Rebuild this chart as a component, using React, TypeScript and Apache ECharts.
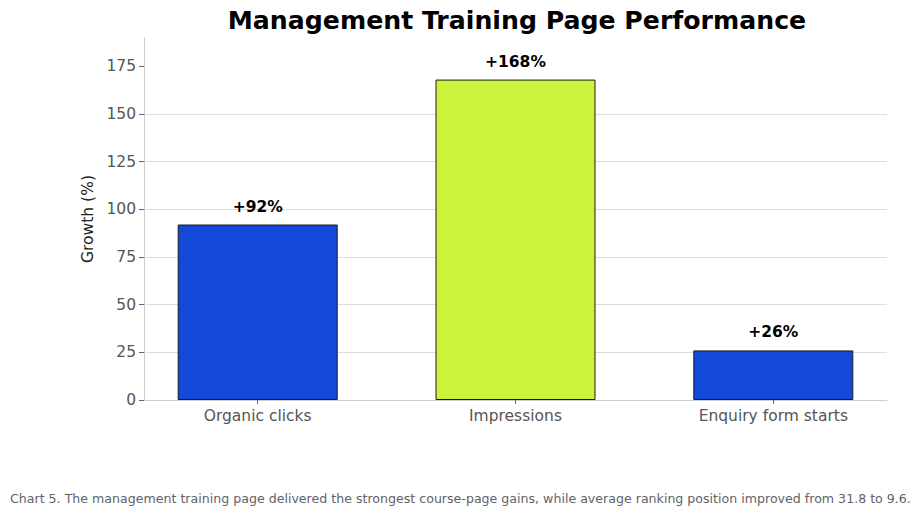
import { useEffect, useRef } from "react";
import * as echarts from "echarts";

const categories = ["Organic clicks", "Impressions", "Enquiry form starts"];
const growth = [92, 168, 26];
const yTicks = [0, 25, 50, 75, 100, 125, 150, 175];

const title = "Management Training Page Performance";
const caption =
  "Chart 5. The management training page delivered the strongest course-page gains, while average ranking position improved from 31.8 to 9.6.";

const BLUE = "#1249d9";
const GREEN = "#ccf23c";
const FONT = "DejaVu Sans";

export default function App() {
  const containerRef = useRef<HTMLDivElement>(null);

  useEffect(() => {
    document.body.style.margin = "0";
    if (!containerRef.current) return;

    const chart = echarts.init(containerRef.current, null, { renderer: "svg" });

    chart.setOption({
      animation: false,
      textStyle: { fontFamily: FONT },

      title: {
        text: title,
        left: 512,
        top: 3,
        textAlign: "center",
        textStyle: { fontFamily: FONT, fontSize: 25.2, fontWeight: "bold", color: "#000" },
      },

      graphic: [
        {
          type: "text",
          left: 10,
          top: 492,
          style: { text: caption, font: `12.6px '${FONT}'`, fill: "#5f6368" },
        },
      ],

      grid: { left: 144, right: 33, top: 38, bottom: 118 },

      xAxis: {
        type: "value",
        min: -0.441,
        max: 2.441,
        splitLine: { show: false },
        axisLine: { show: true, onZero: false, lineStyle: { color: "#cccccc" } },
        axisTick: {
          show: true,
          customValues: [0, 1, 2],
          length: 4,
          lineStyle: { color: "#666" },
        },
        axisLabel: {
          customValues: [0, 1, 2],
          formatter: (v: number) => categories[Math.round(v)] ?? "",
          fontSize: 15.5,
          color: "#555",
          margin: 8,
        },
      },

      yAxis: {
        type: "value",
        min: 0,
        max: 189.8,
        interval: 25,
        name: "Growth (%)",
        nameLocation: "middle",
        nameGap: 46,
        nameTextStyle: { fontSize: 15.5, color: "#222" },
        axisLine: { show: true, onZero: false, lineStyle: { color: "#cccccc" } },
        axisTick: {
          show: true,
          customValues: yTicks,
          length: 5,
          lineStyle: { color: "#666" },
        },
        axisLabel: {
          customValues: yTicks,
          fontSize: 15.5,
          color: "#555",
          margin: 8,
        },
        splitLine: {
          show: true,
          showMaxLine: false,
          lineStyle: { color: "#dddddd", width: 1 },
        },
      },

      series: [
        {
          type: "bar",
          barWidth: 160,
          data: growth.map((g, i) => ({
            value: [i, g],
            itemStyle: {
              color: i === 1 ? GREEN : BLUE,
              borderColor: "#1a1a1a",
              borderWidth: 1,
            },
          })),
          label: {
            show: true,
            position: "top",
            distance: 10,
            formatter: (p: any) => `+${p.value[1]}%`,
            fontSize: 15.5,
            fontWeight: "bold",
            color: "#000",
          },
        },
      ],
    });

    return () => {
      chart.dispose();
    };
  }, []);

  return <div ref={containerRef} style={{ width: "920px", height: "518px" }} />;
}
